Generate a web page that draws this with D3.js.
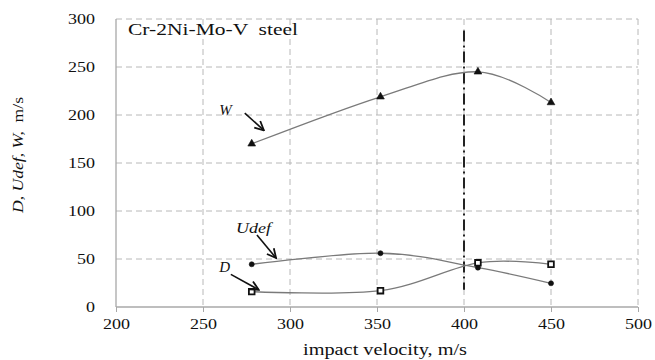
<!DOCTYPE html>
<html>
<head>
<meta charset="utf-8">
<script src="https://cdn.jsdelivr.net/npm/d3@7"></script>
<style>
  body { margin: 0; background: #fff; }
  text { font-family: "Liberation Serif", "Times New Roman", serif; fill: #111; }
</style>
</head>
<body>
<div id="chart"></div>
<script>
/* data */
var velocity = [278, 352, 408, 450];
var wValues = [170, 219, 245, 213];
var udefValues = [44.5, 56, 41, 24.7];
var dValues = [16, 17, 46, 44.5];
var xTicks = [200, 250, 300, 350, 400, 450, 500];
var yTicks = [0, 50, 100, 150, 200, 250, 300];
var refLine = [{ x: 400, y: 288 }, { x: 400, y: 18 }];

function plotChart() {
    var margin = { top: 19, right: 17, bottom: 53, left: 116 },
        width = 655 - margin.left - margin.right,
        height = 360 - margin.top - margin.bottom;

    var x = d3.scaleLinear().domain([200, 500]).range([0, width]);
    var y = d3.scaleLinear().domain([0, 300]).range([height, 0]);

    var svg = d3.select("#chart").append("svg")
        .attr("width", 655)
        .attr("height", 360);
    var g = svg.append("g")
        .attr("transform", "translate(" + margin.left + "," + margin.top + ")");

    // dashed grid
    g.selectAll(".hgrid")
        .data(yTicks.filter(function(d) { return d > 0; }))
        .enter().append("line")
        .attr("x1", 0).attr("x2", width)
        .attr("y1", y).attr("y2", y)
        .attr("stroke", "#b8b8b8")
        .attr("stroke-dasharray", "6,4");

    g.selectAll(".vgrid")
        .data(xTicks.filter(function(d) { return d > 200; }))
        .enter().append("line")
        .attr("x1", x).attr("x2", x)
        .attr("y1", 0).attr("y2", height)
        .attr("stroke", "#b8b8b8")
        .attr("stroke-dasharray", "6,4");

    // axes
    var xAxis = g.append("g")
        .attr("transform", "translate(0," + height + ")")
        .call(d3.axisBottom(x).tickValues(xTicks).tickSize(5).tickPadding(6));
    var yAxis = g.append("g")
        .call(d3.axisLeft(y).tickValues(yTicks).tickSize(0).tickPadding(15));

    [xAxis, yAxis].forEach(function(a) {
        a.attr("font-family", "Liberation Serif").attr("font-size", 15);
        a.select(".domain").attr("stroke", "#a8a8a8").attr("stroke-width", 1.3);
        a.selectAll(".tick line").attr("stroke", "#a8a8a8");
        a.selectAll(".tick text").attr("fill", "#111");
    });
    xAxis.selectAll(".tick text").attr("transform", "scale(1.2,1)");
    yAxis.selectAll(".tick text").attr("transform", "translate(-3,0) scale(1.2,1)")
        .attr("x", -15);
    xAxis.select(".domain").attr("d", "M0,0H" + width);
    yAxis.select(".domain").attr("d", "M0," + height + "V0");

    // vertical dash-dot marker line
    g.append("path")
        .attr("d", d3.line().x(function(d) { return x(d.x); }).y(function(d) { return y(d.y); })(refLine))
        .attr("stroke", "#222")
        .attr("stroke-width", 2)
        .attr("stroke-dasharray", "11,4,2,4")
        .attr("fill", "none");

    var series = [
        { name: "W", values: wValues, marker: "triangle" },
        { name: "Udef", values: udefValues, marker: "circle" },
        { name: "D", values: dValues, marker: "square" }
    ];

    var line = d3.line()
        .x(function(d) { return x(d[0]); })
        .y(function(d) { return y(d[1]); })
        .curve(d3.curveCardinal.tension(0));

    series.forEach(function(s) {
        var pts = velocity.map(function(v, i) { return [v, s.values[i]]; });
        g.append("path")
            .attr("d", line(pts))
            .attr("fill", "none")
            .attr("stroke", "#7a7a7a")
            .attr("stroke-width", 1.3);

        var sym = s.marker === "triangle" ? d3.symbolTriangle :
            s.marker === "circle" ? d3.symbolCircle : d3.symbolSquare;
        var size = s.marker === "circle" ? 20 : s.marker === "triangle" ? 26 : 32;
        g.selectAll(".m-" + s.name)
            .data(pts)
            .enter().append("path")
            .attr("transform", function(d) { return "translate(" + x(d[0]) + "," + y(d[1]) + ")"; })
            .attr("d", d3.symbol().type(sym).size(size))
            .attr("fill", s.marker === "square" ? "#fff" : "#111")
            .attr("stroke", "#111")
            .attr("stroke-width", s.marker === "square" ? 1.8 : 0.6);
    });

    // labels with arrows (positions in data units)
    var notes = [
        { label: "W", tx: 263, ty: 200, ax1: 274, ay1: 202, ax2: 285, ay2: 184 },
        { label: "Udef", tx: 279, ty: 77, ax1: 281, ay1: 75, ax2: 292, ay2: 51 },
        { label: "D", tx: 262.5, ty: 36.5, ax1: 266, ay1: 34, ax2: 282, ay2: 18 }
    ];

    svg.append("defs").append("marker")
        .attr("id", "arrow")
        .attr("viewBox", "0 0 10 10")
        .attr("refX", 9).attr("refY", 5)
        .attr("markerWidth", 7).attr("markerHeight", 7)
        .attr("orient", "auto")
        .append("path")
        .attr("d", "M1,1L9,5L1,9")
        .attr("fill", "none")
        .attr("stroke", "#111")
        .attr("stroke-width", 1.6);

    notes.forEach(function(n) {
        var t = g.append("text")
            .attr("x", x(n.tx))
            .attr("y", y(n.ty))
            .attr("text-anchor", "middle")
            .style("font-size", "15px")
            .style("font-style", "italic")
            .text(n.label);
        if (n.label === "Udef") {
            t.attr("textLength", 35).attr("lengthAdjust", "spacingAndGlyphs");
        }
        g.append("line")
            .attr("x1", x(n.ax1)).attr("y1", y(n.ay1))
            .attr("x2", x(n.ax2)).attr("y2", y(n.ay2))
            .attr("stroke", "#111")
            .attr("stroke-width", 1.6)
            .attr("marker-end", "url(#arrow)");
    });

    // title inside plot
    g.append("text")
        .attr("x", 12)
        .attr("y", 16)
        .attr("textLength", 170)
        .attr("lengthAdjust", "spacingAndGlyphs")
        .style("font-size", "16.5px")
        .style("white-space", "pre")
        .text("Cr-2Ni-Mo-V  steel");

    // axis titles
    svg.append("text")
        .attr("x", 385)
        .attr("y", 355)
        .attr("text-anchor", "middle")
        .attr("textLength", 164)
        .attr("lengthAdjust", "spacingAndGlyphs")
        .style("font-size", "16px")
        .text("impact velocity, m/s");

    var yt = svg.append("text")
        .attr("transform", "translate(23,155) rotate(-90)")
        .attr("text-anchor", "middle")
        .attr("textLength", 116)
        .attr("lengthAdjust", "spacingAndGlyphs")
        .style("font-size", "14.5px")
        .style("white-space", "pre");
    yt.append("tspan").style("font-style", "italic").text("D, Udef, W,");
    yt.append("tspan").text("  m/s");
}

plotChart();
</script>
</body>
</html>
